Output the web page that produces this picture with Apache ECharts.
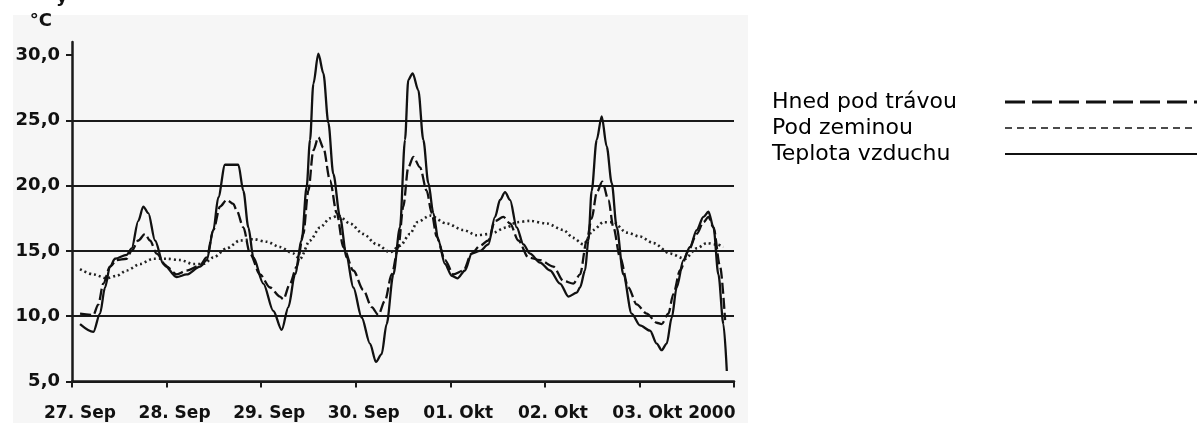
<!DOCTYPE html>
<html>
<head>
<meta charset="utf-8">
<script src="https://cdn.jsdelivr.net/npm/echarts@6/dist/echarts.min.js"></script>
<style>
html,body{margin:0;padding:0;background:#fff;}
#c{width:1197px;height:423px;}
</style>
</head>
<body>
<div id="c"></div>
<script>
// x = days since 27 Sep 2000 00:00, y = temperature in °C
var dayLabels = ['27. Sep', '28. Sep', '29. Sep', '30. Sep', '01. Okt', '02. Okt', '03. Okt 2000'];
var yTicks = [5, 10, 15, 20, 25, 30];
var seriesNames = ['Hned pod trávou', 'Pod zeminou', 'Teplota vzduchu'];

var grass = [[0.085,10.2],[0.226,10.1],[0.278,10.9],[0.331,12.5],[0.402,13.8],[0.472,14.3],[0.578,14.4],[0.631,15.0],[0.701,15.8],[0.772,16.3],[0.825,15.8],[0.895,14.8],[1.001,13.8],[1.107,13.2],[1.213,13.5],[1.354,13.9],[1.424,14.5],[1.495,16.6],[1.565,18.4],[1.636,18.9],[1.706,18.6],[1.741,18.1],[1.812,16.8],[1.882,14.8],[1.988,13.2],[2.094,12.2],[2.199,11.5],[2.235,11.3],[2.305,12.5],[2.376,13.8],[2.446,16.3],[2.499,19.6],[2.552,22.7],[2.605,23.7],[2.658,22.9],[2.728,20.4],[2.799,17.9],[2.869,15.3],[2.975,13.5],[3.081,12.0],[3.169,10.7],[3.239,10.1],[3.310,11.2],[3.380,13.2],[3.451,15.3],[3.503,18.4],[3.556,21.4],[3.609,22.2],[3.680,21.4],[3.751,19.6],[3.803,17.9],[3.856,16.1],[3.944,14.3],[4.033,13.2],[4.138,13.5],[4.226,14.8],[4.314,15.4],[4.402,15.8],[4.473,17.3],[4.561,17.6],[4.632,17.1],[4.720,15.8],[4.826,14.5],[4.949,14.3],[5.090,13.8],[5.196,12.7],[5.301,12.5],[5.372,13.2],[5.443,15.8],[5.495,17.5],[5.550,19.5],[5.608,20.3],[5.672,18.9],[5.725,16.8],[5.795,14.5],[5.883,12.2],[5.971,10.9],[6.077,10.2],[6.183,9.5],[6.235,9.4],[6.306,10.2],[6.359,11.7],[6.429,13.5],[6.517,15.0],[6.606,16.3],[6.677,17.2],[6.730,17.6],[6.783,16.8],[6.853,13.8],[6.906,9.7]];

var soil = [[0.085,13.6],[0.226,13.2],[0.367,12.9],[0.472,13.1],[0.578,13.5],[0.719,14.0],[0.860,14.4],[1.001,14.4],[1.142,14.3],[1.283,14.0],[1.389,14.0],[1.495,14.5],[1.636,15.2],[1.777,15.8],[1.918,15.9],[2.059,15.7],[2.199,15.3],[2.340,14.8],[2.411,14.4],[2.517,15.8],[2.623,16.8],[2.728,17.5],[2.817,17.7],[2.940,17.1],[3.081,16.3],[3.222,15.5],[3.363,14.9],[3.470,15.4],[3.574,16.3],[3.650,17.2],[3.786,17.7],[3.962,17.1],[4.138,16.6],[4.279,16.2],[4.420,16.3],[4.596,16.8],[4.702,17.2],[4.843,17.3],[5.019,17.1],[5.196,16.6],[5.300,16.0],[5.407,15.5],[5.513,16.6],[5.619,17.2],[5.725,17.2],[5.866,16.4],[6.006,16.1],[6.147,15.6],[6.324,14.8],[6.482,14.4],[6.606,15.2],[6.712,15.6],[6.818,15.5],[6.888,15.3]];

var air = [[0.085,9.4],[0.226,8.8],[0.296,10.2],[0.349,12.2],[0.402,13.8],[0.455,14.4],[0.578,14.7],[0.631,15.2],[0.701,17.3],[0.754,18.4],[0.807,17.9],[0.878,15.8],[0.966,14.0],[1.107,13.0],[1.213,13.2],[1.354,13.8],[1.424,14.3],[1.495,16.6],[1.547,19.1],[1.618,21.6],[1.706,21.6],[1.759,21.6],[1.812,19.6],[1.865,16.8],[1.918,14.5],[2.023,12.5],[2.129,10.4],[2.217,8.95],[2.288,10.7],[2.358,13.2],[2.429,15.8],[2.481,19.9],[2.517,23.5],[2.552,27.8],[2.605,30.1],[2.658,28.6],[2.711,24.8],[2.763,20.9],[2.834,17.6],[2.904,14.5],[2.975,12.2],[3.063,9.9],[3.151,7.9],[3.214,6.5],[3.274,7.1],[3.327,9.4],[3.398,13.2],[3.468,16.8],[3.521,23.5],[3.556,28.1],[3.602,28.6],[3.662,27.3],[3.715,23.5],[3.768,20.2],[3.821,17.9],[3.874,15.8],[3.944,14.0],[4.015,13.1],[4.075,12.9],[4.156,13.5],[4.226,14.8],[4.314,15.0],[4.402,15.5],[4.473,17.6],[4.526,18.9],[4.579,19.5],[4.632,18.9],[4.702,16.8],[4.773,15.5],[4.843,14.8],[4.949,14.1],[5.055,13.5],[5.160,12.5],[5.250,11.5],[5.337,11.8],[5.372,12.2],[5.425,13.5],[5.460,15.8],[5.495,19.6],[5.548,23.5],[5.601,25.3],[5.654,23.0],[5.707,20.2],[5.760,16.8],[5.830,13.2],[5.918,10.2],[6.006,9.3],[6.112,8.9],[6.183,7.9],[6.235,7.4],[6.288,7.9],[6.342,9.9],[6.394,12.2],[6.465,14.3],[6.535,15.3],[6.606,16.6],[6.677,17.6],[6.730,18.0],[6.783,16.8],[6.835,13.2],[6.888,9.4],[6.924,5.8]];

var FONT_B = 'DejaVu Sans';
var chart = echarts.init(document.getElementById('c'));
var hiddenSymbol = { color: 'rgba(0,0,0,0)', borderWidth: 0, opacity: 0 };
chart.setOption({
  animation: false,
  backgroundColor: '#ffffff',
  graphic: [
    { type: 'rect', z: -10, silent: true, shape: { x: 13, y: 15, width: 735, height: 408 }, style: { fill: '#f6f6f6' } },
    { type: 'text', left: 56, top: -12, silent: true, style: { text: 'y', font: 'bold 18px "DejaVu Sans"', fill: '#111' } }
  ],
  grid: { left: 72, right: 463, top: 42, bottom: 41.5, containLabel: false },
  legend: {
    orient: 'vertical',
    left: 767,
    top: 86,
    align: 'right',
    itemWidth: 200,
    itemHeight: 14,
    itemGap: 4,
    formatter: function (n) { return '{t|' + n + '}'; },
    itemStyle: hiddenSymbol,
    textStyle: {
      color: '#000',
      rich: { t: { width: 228, align: 'left', fontSize: 22, lineHeight: 22, fontFamily: 'DejaVu Sans', color: '#000' } }
    },
    data: [
      { name: seriesNames[0], itemStyle: hiddenSymbol, lineStyle: { color: '#111', width: 3, type: [20, 7] } },
      { name: seriesNames[1], itemStyle: hiddenSymbol, lineStyle: { color: '#111', width: 1.5, type: [7, 5] } },
      { name: seriesNames[2], itemStyle: hiddenSymbol, lineStyle: { color: '#111', width: 2, type: 'solid' } }
    ]
  },
  xAxis: {
    type: 'value',
    min: 0, max: 7, interval: 1,
    axisLine: { show: true, onZero: false, lineStyle: { color: '#1a1a1a', width: 2.5 } },
    axisTick: { show: true, inside: false, length: 6, lineStyle: { color: '#1a1a1a', width: 2 } },
    splitLine: { show: false },
    axisLabel: {
      margin: 24,
      color: '#111',
      formatter: function (v) {
        var i = Math.round(v);
        if (i < 0 || i >= dayLabels.length) return '';
        return (i === dayLabels.length - 1 ? '{l|' : '{n|') + dayLabels[i] + '}';
      },
      rich: {
        n: { fontFamily: FONT_B, fontWeight: 'bold', fontSize: 17, color: '#111', padding: [0, 0, 0, 16] },
        l: { fontFamily: FONT_B, fontWeight: 'bold', fontSize: 17, color: '#111', padding: [0, 0, 0, 69] }
      }
    }
  },
  yAxis: {
    type: 'value',
    min: 5, max: 31, interval: 5,
    name: '°C',
    nameLocation: 'end',
    nameGap: 12,
    nameTextStyle: { fontFamily: FONT_B, fontWeight: 'bold', fontSize: 18, color: '#111', align: 'right', padding: [0, 20, 0, 0] },
    axisLine: { show: true, lineStyle: { color: '#1a1a1a', width: 2.5 } },
    axisTick: { show: true, inside: false, length: 6, customValues: yTicks, lineStyle: { color: '#1a1a1a', width: 2 } },
    splitLine: { show: true, showMaxLine: false, lineStyle: { color: '#1a1a1a', width: 2 } },
    axisLabel: {
      margin: 12,
      customValues: yTicks,
      fontFamily: FONT_B, fontWeight: 'bold', fontSize: 18, color: '#111',
      formatter: function (v) { return v.toFixed(1).replace('.', ','); }
    }
  },
  series: [
    { name: seriesNames[0], type: 'line', data: grass, color: '#111', showSymbol: false, symbol: 'none', smooth: 0.3, smoothMonotone: 'x', z: 3,
      lineStyle: { color: '#111', width: 2.3, type: [11, 4] } },
    { name: seriesNames[1], type: 'line', data: soil, color: '#222', showSymbol: false, symbol: 'none', smooth: 0.3, smoothMonotone: 'x', z: 2,
      lineStyle: { color: '#222', width: 2.6, type: [2, 3] } },
    { name: seriesNames[2], type: 'line', data: air, color: '#111', showSymbol: false, symbol: 'none', smooth: 0.3, smoothMonotone: 'x', z: 4,
      lineStyle: { color: '#111', width: 2.3, type: 'solid' } }
  ]
});
</script>
</body>
</html>
